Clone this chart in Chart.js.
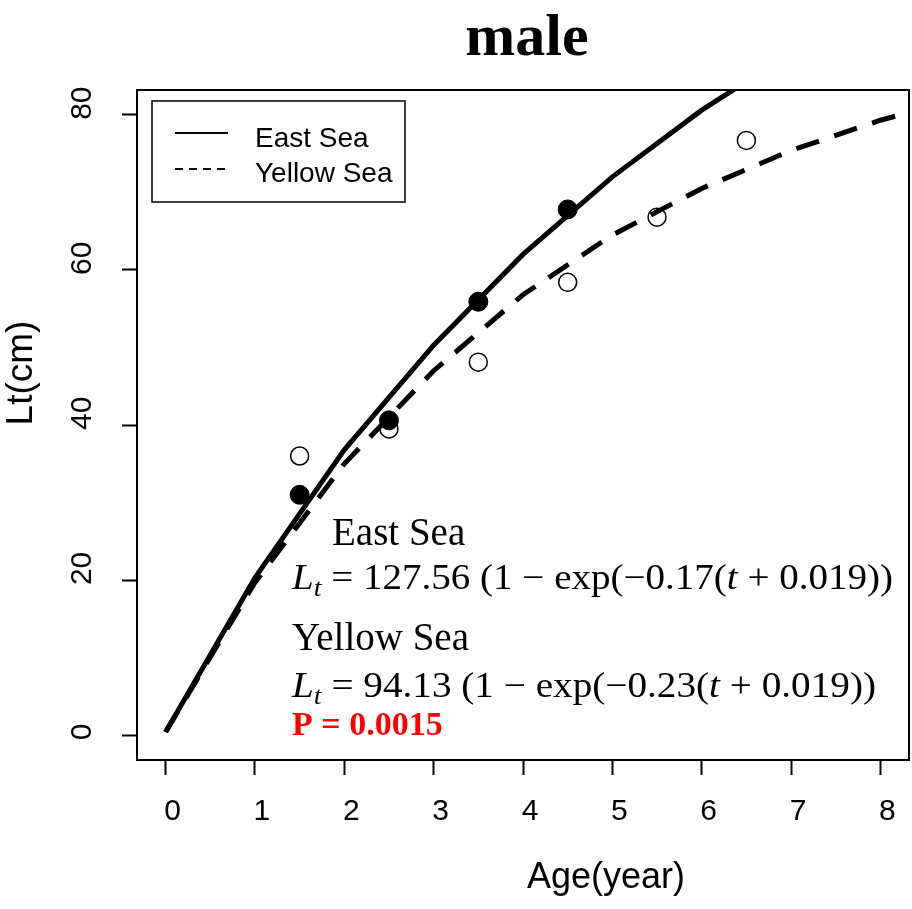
<!DOCTYPE html>
<html>
<head>
<meta charset="utf-8">
<script src="https://cdn.jsdelivr.net/npm/chart.js@4"></script>
<style>
  body { margin: 0; background: #fff; }
  canvas { display: block; }
</style>
</head>
<body>
<canvas id="growth-chart" width="912" height="909"></canvas>
<script>
const ages = [0, 1, 2, 3, 4, 5, 6, 7, 8, 9];
const east_fit = [0.4, 20.3, 36.8, 50.3, 62.0, 72.0, 80.6, 88.0, 94.5, 100.0];
const yellow_fit = [0.4, 19.7, 35.0, 47.0, 56.8, 64.5, 70.5, 75.4, 79.3, 82.4];

// observed mean lengths
const east_age = [1.5, 2.5, 3.5, 4.5];
const east_len = [31.0, 40.6, 55.9, 67.8];
const yellow_age = [1.5, 2.5, 3.5, 4.5, 5.5, 6.5];
const yellow_len = [36.0, 39.5, 48.1, 58.4, 66.8, 76.7];

const x_ticks = [0, 1, 2, 3, 4, 5, 6, 7, 8];
const y_ticks = [0, 20, 40, 60, 80];

function pairs(xs, ys) {
  return xs.map((x, i) => ({ x: x, y: ys[i] }));
}

const tick_font = { family: "Liberation Sans", size: 30 };

// text, frame and legend drawn on top, the way base R would
const extras = {
  id: "extras",
  afterDraw(chart) {
    const ctx = chart.ctx;
    const a = chart.chartArea;
    ctx.save();

    // plot frame
    ctx.strokeStyle = "#000";
    ctx.lineWidth = 2;
    ctx.strokeRect(a.left, a.top, a.right - a.left, a.bottom - a.top);

    // title
    ctx.fillStyle = "#000";
    ctx.textAlign = "center";
    ctx.textBaseline = "alphabetic";
    ctx.font = "bold 60px 'Liberation Serif'";
    ctx.fillText("male", 527, 55);

    // axis titles
    ctx.font = "36px 'Liberation Sans'";
    ctx.fillText("Age(year)", 606, 888);
    ctx.save();
    ctx.translate(22, 373);
    ctx.rotate(-Math.PI / 2);
    ctx.textBaseline = "middle";
    ctx.font = "37px 'Liberation Sans'";
    ctx.fillText("Lt(cm)", 0, 0);
    ctx.restore();

    // legend
    ctx.lineWidth = 1.5;
    ctx.strokeRect(152, 101, 253, 101);
    ctx.lineWidth = 2;
    ctx.beginPath();
    ctx.moveTo(175, 133);
    ctx.lineTo(228, 133);
    ctx.stroke();
    ctx.setLineDash([8, 6]);
    ctx.beginPath();
    ctx.moveTo(175, 169);
    ctx.lineTo(228, 169);
    ctx.stroke();
    ctx.setLineDash([]);
    ctx.textAlign = "left";
    ctx.font = "28px 'Liberation Sans'";
    ctx.fillText("East Sea", 255, 147);
    ctx.fillText("Yellow Sea", 255, 182);

    // fitted equations
    ctx.font = "39px 'Liberation Serif'";
    ctx.fillText("East Sea", 332, 545);
    ctx.fillText("Yellow Sea", 292, 650);
    drawEquation(ctx, "127.56", "0.17", 292, 589, 601);
    drawEquation(ctx, "94.13", "0.23", 292, 697, 584);

    ctx.fillStyle = "#ff0000";
    ctx.font = "bold 34px 'Liberation Serif'";
    ctx.fillText("P = 0.0015", 292, 735);
    ctx.restore();
  },
};

// L_t = A (1 - exp(-k(t + 0.019)))
function drawEquation(ctx, linf, k, x, y, width) {
  const size = 35;
  const parts = [
    { t: "L", font: "italic " + size + "px 'Liberation Serif'", dy: 0 },
    { t: "t", font: "italic " + Math.round(size * 0.72) + "px 'Liberation Serif'", dy: 7 },
    { t: " = " + linf + " (1 \u2212 exp(\u2212" + k + "(", font: size + "px 'Liberation Serif'", dy: 0 },
    { t: "t", font: "italic " + size + "px 'Liberation Serif'", dy: 0 },
    { t: " + 0.019))", font: size + "px 'Liberation Serif'", dy: 0 },
  ];
  let total = 0;
  parts.forEach((p) => {
    ctx.font = p.font;
    p.w = ctx.measureText(p.t).width;
    total += p.w;
  });
  ctx.save();
  ctx.translate(x, y);
  ctx.scale(width / total, 1);
  let cx = 0;
  parts.forEach((p) => {
    ctx.font = p.font;
    ctx.fillText(p.t, cx, p.dy);
    cx += p.w;
  });
  ctx.restore();
}

const growth_data = {
  datasets: [
    {
      label: "East Sea points",
      data: pairs(east_age, east_len),
      showLine: false,
      pointRadius: 9.5,
      pointBorderWidth: 1,
      pointBackgroundColor: "#000",
      pointBorderColor: "#000",
      order: 0,
    },
    {
      label: "Yellow Sea points",
      data: pairs(yellow_age, yellow_len),
      showLine: false,
      pointRadius: 9,
      pointBorderWidth: 1.5,
      pointBackgroundColor: "rgba(0,0,0,0)",
      pointBorderColor: "#000",
      order: 0,
    },
    {
      label: "East Sea",
      data: pairs(ages, east_fit),
      showLine: true,
      borderColor: "#000",
      borderWidth: 5,
      pointRadius: 0,
      tension: 0,
      order: 1,
    },
    {
      label: "Yellow Sea",
      data: pairs(ages, yellow_fit),
      showLine: true,
      borderColor: "#000",
      borderWidth: 5,
      borderDash: [24, 16],
      pointRadius: 0,
      tension: 0,
      order: 1,
    },
  ],
};

const growth_config = {
  type: "scatter",
  data: growth_data,
  plugins: [extras],
  options: {
    responsive: false,
    animation: false,
    devicePixelRatio: 1,
    layout: {
      autoPadding: false,
      padding: { top: 90, right: 3, left: 68, bottom: 0 },
    },
    plugins: {
      legend: { display: false },
      title: { display: false },
      tooltip: { enabled: false },
    },
    scales: {
      x: {
        type: "linear",
        min: -0.32,
        max: 8.32,
        afterBuildTicks: (s) => {
          s.ticks = x_ticks.map((v) => ({ value: v }));
        },
        afterFit: (s) => {
          s.height = 149;
          s.paddingLeft = 0;
          s.paddingRight = 0;
        },
        border: { display: false },
        grid: {
          drawOnChartArea: false,
          drawTicks: true,
          tickLength: 15,
          tickWidth: 2,
          tickColor: "#000",
        },
        ticks: {
          color: "#000",
          font: tick_font,
          padding: 19,
          labelOffset: 7,
          maxRotation: 0,
          autoSkip: false,
        },
      },
      y: {
        type: "linear",
        min: -3.2,
        max: 83.2,
        afterBuildTicks: (s) => {
          s.ticks = y_ticks.map((v) => ({ value: v }));
        },
        afterFit: (s) => {
          s.width = 69;
          s.paddingTop = 0;
          s.paddingBottom = 0;
        },
        border: { display: false },
        grid: {
          drawOnChartArea: false,
          drawTicks: true,
          tickLength: 15,
          tickWidth: 2,
          tickColor: "#000",
        },
        ticks: {
          color: "#000",
          font: tick_font,
          minRotation: 90,
          maxRotation: 90,
          crossAlign: "far",
          align: "start",
          labelOffset: 5,
          autoSkip: false,
        },
      },
    },
  },
};

const ctx = document.getElementById("growth-chart").getContext("2d");
const growthChart = new Chart(ctx, growth_config);
</script>
</body>
</html>
